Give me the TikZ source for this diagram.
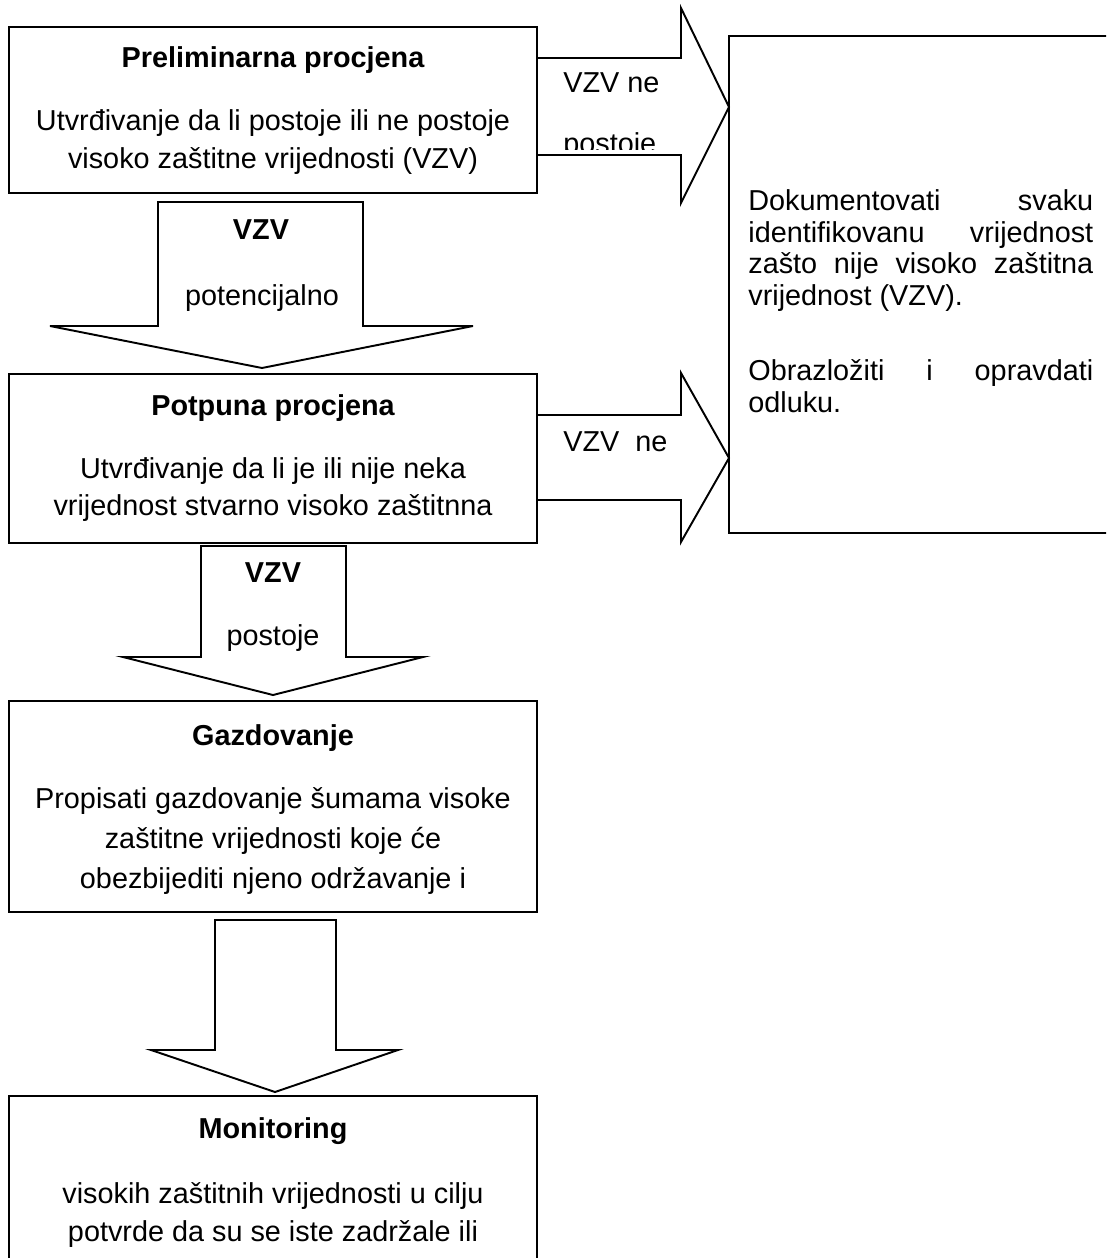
\documentclass[tikz,border=0pt]{standalone}
\usepackage{fontspec}
\setmainfont{Liberation Sans}
\usetikzlibrary{positioning}
\newcommand*{\bodyfont}{\fontsize{16.4}{21.6}\selectfont}
\newcommand*{\sidefont}{\fontsize{16.4}{18.1}\selectfont}

\tikzset{
  box/.style={draw,line width=1.1pt,minimum width=10.56cm,inner sep=0pt},
  blockarrow/.style={draw,line width=1.1pt,fill=white,line join=miter},
  txt/.style={font=\bodyfont,anchor=base,inner sep=0pt},
  ttl/.style={txt,font=\bodyfont\bfseries},
  sidetxt/.style={font=\sidefont,text width=6.9cm,align=justify,
                  anchor=north west,inner sep=0pt}
}

\begin{document}
\begin{tikzpicture}[x=0.02cm,y=-0.02cm]
\useasboundingbox (0,0) rectangle (1106,1258);
\clip (0,0) rectangle (1106,1258);
% Boxes of the left column
\node[box,minimum height=3.32cm] (prelim) at (273,110) {};
\node[box,minimum height=3.38cm] (full) at (273,458.5) {};
\node[box,minimum height=4.22cm] (manage) at (273,806.5) {};
\node[box,minimum height=6.08cm] (monit) at (273,1248) {};
% Box on the right
\node[box,minimum width=8.02cm,minimum height=9.94cm] (decide) at (929.5,284.5) {};
% Block arrows to the right
\draw[blockarrow] (537,58) -- (681,58) -- (681,8) -- (729,107)
  -- (681,203) -- (681,155) -- (537,155) -- cycle;
\draw[blockarrow] (537,415) -- (681,415) -- (681,373) -- (729,458)
  -- (681,542) -- (681,500) -- (537,500) -- cycle;
% Block arrows downwards
\draw[blockarrow] (158,202) -- (158,326) -- (50,326) -- (262,368)
  -- (473,326) -- (363,326) -- (363,202) -- cycle;
\draw[blockarrow] (201,546) -- (201,657) -- (123,657) -- (273,695)
  -- (423,657) -- (346,657) -- (346,546) -- cycle;
\draw[blockarrow] (215,920) -- (215,1050) -- (151,1050) -- (275,1092)
  -- (398,1050) -- (336,1050) -- (336,920) -- cycle;
% Texts of the boxes
\node[ttl] (prelimT) at (273,67) {Preliminarna procjena};
\node[txt] (prelimA) at (273,130) {Utvrđivanje da li postoje ili ne postoje};
\node[txt] (prelimB) at (273,168) {visoko zaštitne vrijednosti (VZV)};
\node[ttl] (fullT) at (273,415) {Potpuna procjena};
\node[txt] (fullA) at (273,478) {Utvrđivanje da li je ili nije neka};
\node[txt] (fullB) at (273,515) {vrijednost stvarno visoko zaštitnna};
\node[ttl] (manageT) at (273,745) {Gazdovanje};
\node[txt] (manageA) at (273,808) {Propisati gazdovanje šumama visoke};
\node[txt] (manageB) at (273,848) {zaštitne vrijednosti koje će};
\node[txt] (manageC) at (273,888) {obezbijediti njeno održavanje i};
\node[ttl] (monitT) at (273,1138) {Monitoring};
\node[txt] (monitA) at (273,1203) {visokih zaštitnih vrijednosti u cilju};
\node[txt] (monitB) at (273,1241) {potvrde da su se iste zadržale ili};
\node[sidetxt] (decideA) at (748,189) {Dokumentovati svaku\linebreak
  identifikovanu vrijednost\linebreak zašto nije visoko zaštitna\linebreak
  vrijednost (VZV).};
\node[sidetxt] (decideB) at (748,359) {Obrazložiti i opravdati\linebreak odluku.};
% Texts of the arrows
\begin{scope}
\clip (540,62) rectangle (680,149);
\node[txt,anchor=base west] (noA) at (563,92) {VZV ne};
\node[txt,anchor=base west] (noB) at (563,153) {postoje};
\end{scope}
\node[txt,anchor=base west] (noC) at (563,451) {VZV\ \ ne};
\node[ttl] (maybeT) at (261,239) {VZV};
\node[txt] (maybeA) at (262,305) {potencijalno};
\node[ttl] (yesT) at (273,582) {VZV};
\node[txt] (yesA) at (273,645) {postoje};
\end{tikzpicture}
\end{document}
